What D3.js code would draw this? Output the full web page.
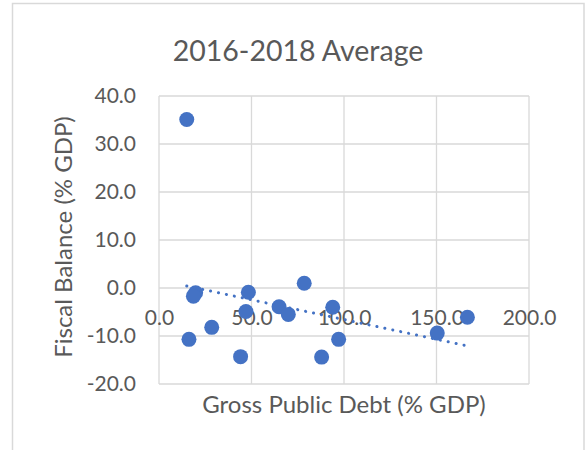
<!DOCTYPE html>
<html>
<head>
<meta charset="utf-8">
<script src="https://cdn.jsdelivr.net/npm/d3@7"></script>
<style>
  html, body { margin: 0; padding: 0; background: #fff; }
  svg { display: block; }
  text { font-family: Lato, "Open Sans", sans-serif; fill: #595959; }
</style>
</head>
<body>
<svg id="chart" width="586" height="450"></svg>
<script>
// Gross public debt vs fiscal balance, 2016-2018 averages (% of GDP)
const debt    = [19.8, 18.6, 48.3, 47.0, 78.5, 64.9, 69.9, 28.5, 16.2, 44.1, 87.9, 93.9, 97.1, 166.7, 150.4, 15.0];
const balance = [-1.0, -1.7, -0.9, -4.9,  1.0, -3.9, -5.5, -8.2, -10.7, -14.3, -14.4, -4.0, -10.7, -6.1, -9.4, 35.1];

const xTicks = [0, 50, 100, 150, 200];
const yTicks = [-20, -10, 0, 10, 20, 30, 40];

const titleText = "2016-2018 Average";
const xTitle = "Gross Public Debt (% GDP)";
const yTitle = "Fiscal Balance (% GDP)";

const svg = d3.select("#chart");
const plot = { left: 159, right: 529, top: 96, bottom: 384 };

const x = d3.scaleLinear().domain([0, 200]).range([plot.left, plot.right]);
const y = d3.scaleLinear().domain([-20, 40]).range([plot.bottom, plot.top]);
// one decimal, plain hyphen for negatives
const fmt = d3.formatLocale({ decimal: ".", thousands: ",", grouping: [3], currency: ["", ""], minus: "-" }).format(".1f");

// chart frame
svg.append("rect")
  .attr("x", 12.5).attr("y", 3.5)
  .attr("width", 571.5).attr("height", 460)
  .attr("fill", "#fff").attr("stroke", "#d9d9d9").attr("stroke-width", 1.5);

// title
svg.append("text")
  .attr("x", 298).attr("y", 61)
  .attr("text-anchor", "middle")
  .style("font-size", "28.5px")
  .text(titleText);

// gridlines
const grid = svg.append("g").attr("stroke", "#d9d9d9").attr("stroke-width", 1.3);
grid.selectAll(".gy").data(yTicks).join("line")
  .attr("x1", plot.left).attr("x2", plot.right)
  .attr("y1", d => y(d)).attr("y2", d => y(d));
grid.selectAll(".gx").data(xTicks).join("line")
  .attr("x1", d => x(d)).attr("x2", d => x(d))
  .attr("y1", plot.top).attr("y2", plot.bottom);

// y axis (labels only; line coincides with the x=0 gridline)
const yAxis = svg.append("g")
  .attr("transform", `translate(${plot.left},0)`)
  .call(d3.axisLeft(y).tickValues(yTicks).tickFormat(fmt).tickSize(0).tickPadding(23));
yAxis.select(".domain").remove();
yAxis.selectAll("text").style("font-size", "21px").attr("fill", "#595959");

// x axis crossing at y = 0
const xAxis = svg.append("g")
  .attr("transform", `translate(0,${y(0)})`)
  .call(d3.axisBottom(x).tickValues(xTicks).tickFormat(fmt).tickSize(0).tickPadding(22));
xAxis.select(".domain").remove();
xAxis.selectAll("text").style("font-size", "21px").attr("fill", "#595959");

// axis titles
svg.append("text")
  .attr("x", (plot.left + plot.right) / 2).attr("y", 413)
  .attr("text-anchor", "middle")
  .style("font-size", "24px")
  .text(xTitle);

svg.append("text")
  .attr("transform", `translate(72,${(plot.top + plot.bottom) / 2 - 3}) rotate(-90)`)
  .attr("text-anchor", "middle")
  .style("font-size", "24px")
  .text(yTitle);

// points
const pts = debt.map((d, i) => ({ x: d, y: balance[i] }));
svg.append("g").selectAll("circle").data(pts).join("circle")
  .attr("cx", d => x(d.x)).attr("cy", d => y(d.y))
  .attr("r", 7.5)
  .attr("fill", "#4472c4");

// linear trendline (least squares) across the data's x range
const mx = d3.mean(debt), my = d3.mean(balance);
const sxy = d3.sum(pts, p => (p.x - mx) * (p.y - my));
const sxx = d3.sum(pts, p => (p.x - mx) ** 2);
const slope = sxy / sxx, intercept = my - slope * mx;
const [x0, x1] = d3.extent(debt);
svg.append("line")
  .attr("x1", x(x0)).attr("y1", y(intercept + slope * x0))
  .attr("x2", x(x1)).attr("y2", y(intercept + slope * x1))
  .attr("stroke", "#4472c4")
  .attr("stroke-width", 3)
  .attr("stroke-linecap", "round")
  .attr("stroke-dasharray", "0.1 8");
</script>
</body>
</html>
